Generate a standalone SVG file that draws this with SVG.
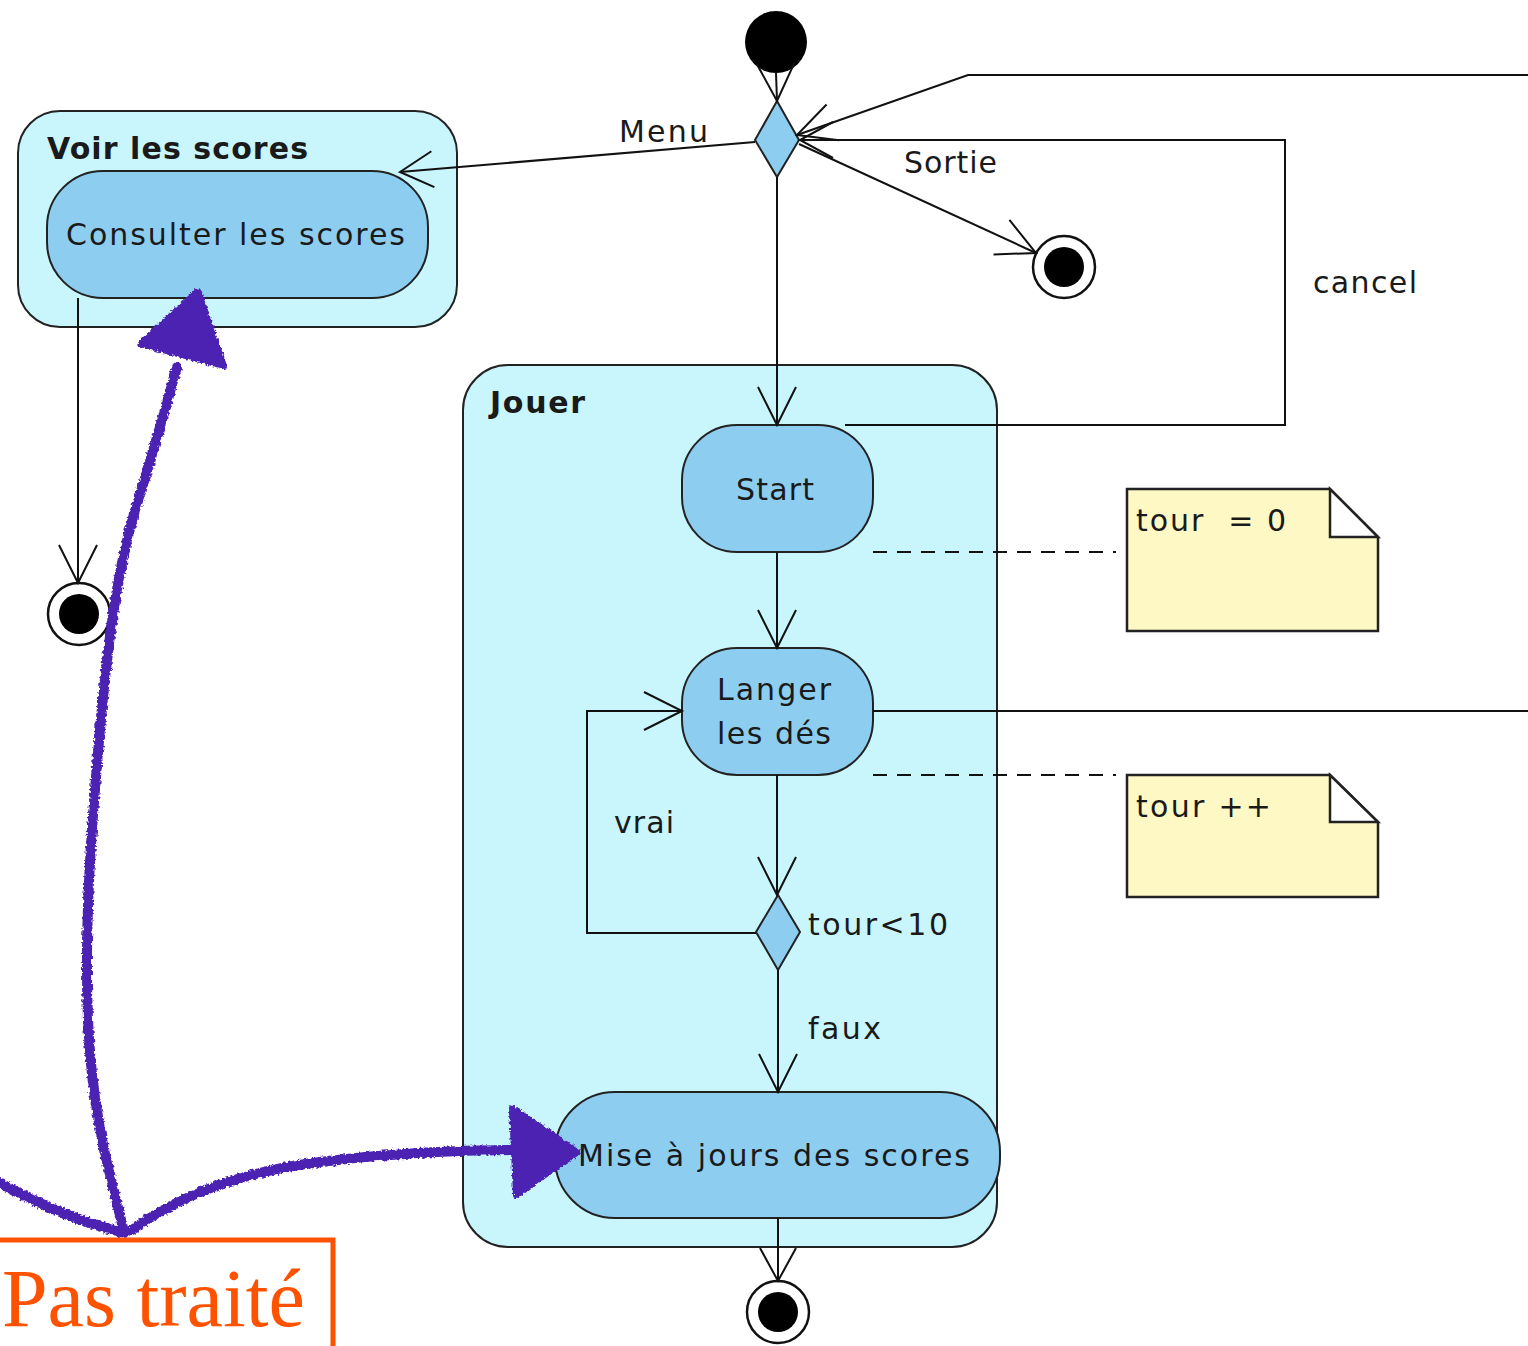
<svg xmlns="http://www.w3.org/2000/svg" width="1528" height="1346" viewBox="0 0 1528 1346">
<style>
.grp{fill:#c9f6fc;stroke:#222;stroke-width:2}
.act{fill:#8dcef0;stroke:#222;stroke-width:2}
.dec{fill:#8dcef0;stroke:#222;stroke-width:2}
.note{fill:#fdf8c4;stroke:#222;stroke-width:2.5}
.fold{fill:#fff;stroke:#222;stroke-width:2.5}
.ln{fill:none;stroke:#111;stroke-width:2}
.dash{fill:none;stroke:#111;stroke-width:2;stroke-dasharray:14 10}
.t{font-family:"DejaVu Sans","Liberation Sans",sans-serif;font-size:30px;fill:#1a1a1a}
.b{font-family:"DejaVu Sans","Liberation Sans",sans-serif;font-size:30px;font-weight:bold;fill:#1a1a1a}
.pur{fill:none;stroke:#4b23b2;stroke-width:10;stroke-linecap:round;stroke-linejoin:round}
.purf{fill:#4b23b2;stroke:#4b23b2;stroke-width:6;stroke-linejoin:round}
</style>
<defs>
<marker id="arr" markerUnits="userSpaceOnUse" markerWidth="50" markerHeight="50" refX="0" refY="0" viewBox="-45 -25 50 50" orient="auto" overflow="visible">
<path d="M -38 -19 L 0 0 L -38 19" fill="none" stroke="#111" stroke-width="2"/>
</marker>
<marker id="arrs" markerUnits="userSpaceOnUse" markerWidth="50" markerHeight="50" refX="0" refY="0" viewBox="-45 -25 50 50" orient="auto" overflow="visible">
<path d="M -33 -18 L 0 0 L -33 18" fill="none" stroke="#111" stroke-width="2"/>
</marker>
<filter id="rough" x="-10%" y="-10%" width="120%" height="120%">
<feTurbulence type="fractalNoise" baseFrequency="0.35" numOctaves="2" seed="3" result="n"/>
<feDisplacementMap in="SourceGraphic" in2="n" scale="5" xChannelSelector="R" yChannelSelector="G"/>
</filter>
</defs>
<rect x="0" y="0" width="1528" height="1346" fill="#fff"/>

<g id="voir">
<rect class="grp" x="18" y="111" width="439" height="216" rx="42"/>
<text class="b" x="47" y="159" textLength="261">Voir les scores</text>
</g>
<g id="consulter">
<rect class="act" x="47" y="171" width="381" height="127" rx="56"/>
<text class="t" x="66" y="245" textLength="339">Consulter les scores</text>
</g>
<g id="jouer">
<rect class="grp" x="463" y="365" width="534" height="882" rx="45"/>
<text class="b" x="490" y="413" textLength="95">Jouer</text>
</g>
<g id="start">
<rect class="act" x="682" y="425" width="191" height="127" rx="55"/>
<text class="t" x="736" y="500" textLength="78">Start</text>
</g>
<g id="langer">
<rect class="act" x="682" y="648" width="191" height="127" rx="55"/>
<text class="t" x="717" y="700" textLength="114">Langer</text>
<text class="t" x="717" y="744" textLength="114">les dés</text>
</g>
<g id="mise">
<rect class="act" x="555" y="1092" width="445" height="126" rx="60"/>
<text class="t" x="578" y="1166" textLength="392">Mise à jours des scores</text>
</g>
<g id="init">
<circle cx="776" cy="42" r="31" fill="#000"/>
</g>
<g id="decision1">
<polygon class="dec" points="777,101 799,140 777,177 755,140"/>
</g>
<g id="decision2">
<polygon class="dec" points="778,895 800,932 778,970 756,932"/>
</g>
<g id="final-sortie">
<circle cx="1064" cy="267" r="31" fill="#fff" stroke="#111" stroke-width="2.5"/>
<circle cx="1064" cy="267" r="20" fill="#000"/>
</g>
<g id="final-voir">
<circle cx="79" cy="614" r="31" fill="#fff" stroke="#111" stroke-width="2.5"/>
<circle cx="79" cy="614" r="20" fill="#000"/>
</g>
<g id="final-jouer">
<circle cx="778" cy="1312" r="31" fill="#fff" stroke="#111" stroke-width="2.5"/>
<circle cx="778" cy="1312" r="20" fill="#000"/>
</g>
<g id="note1">
<path class="note" d="M1127 489 H1330 L1378 537 V631 H1127 Z"/>
<path class="fold" d="M1330 489 V537 H1378 Z"/>
<text class="t" x="1136" y="531" textLength="150" xml:space="preserve">tour  = 0</text>
</g>
<g id="note2">
<path class="note" d="M1127 775 H1330 L1378 822 V897 H1127 Z"/>
<path class="fold" d="M1330 775 V822 H1378 Z"/>
<text class="t" x="1136" y="817" textLength="135">tour ++</text>
</g>

<g id="connectors">
<line class="ln" x1="776" y1="73" x2="777" y2="101" marker-end="url(#arr)"/>
<line class="ln" x1="755" y1="142" x2="400" y2="172" marker-end="url(#arrs)"/>
<polyline class="ln" points="1528,75 968,75 797,135" marker-end="url(#arr)"/>
<polyline class="ln" points="845,425 1285,425 1285,140 800,140" marker-end="url(#arrs)"/>
<line class="ln" x1="799" y1="144" x2="1036" y2="253" marker-end="url(#arr)"/>
<line class="ln" x1="777" y1="177" x2="777" y2="425" marker-end="url(#arr)"/>
<line class="ln" x1="78" y1="298" x2="78" y2="583" marker-end="url(#arr)"/>
<line class="ln" x1="777" y1="552" x2="777" y2="648" marker-end="url(#arr)"/>
<line class="ln" x1="777" y1="775" x2="777" y2="895" marker-end="url(#arr)"/>
<polyline class="ln" points="756,933 587,933 587,711 682,711" marker-end="url(#arr)"/>
<line class="ln" x1="778" y1="970" x2="778" y2="1092" marker-end="url(#arr)"/>
<line class="ln" x1="778" y1="1218" x2="778" y2="1281" marker-end="url(#arrs)"/>
<line class="ln" x1="873" y1="711" x2="1528" y2="711"/>
<line class="dash" x1="873" y1="552" x2="1116" y2="552"/>
<line class="dash" x1="873" y1="775" x2="1116" y2="775"/>
<text class="t" x="619" y="142" textLength="89">Menu</text>
<text class="t" x="904" y="173" textLength="93">Sortie</text>
<text class="t" x="1313" y="293" textLength="104">cancel</text>
<text class="t" x="614" y="833" textLength="60">vrai</text>
<text class="t" x="808" y="935" textLength="140">tour&lt;10</text>
<text class="t" x="808" y="1039" textLength="73">faux</text>
</g>

<g id="annotations" filter="url(#rough)">
<path class="pur" d="M124 1232 C112 1180 92 1120 88 1020 C84 920 92 820 100 730 C108 640 118 560 140 495 C152 455 165 410 177 367"/>
<path class="purf" d="M198 291 L140 344 L224 366 Z"/>
<path class="pur" d="M132 1230 C180 1195 240 1172 320 1162 C400 1152 460 1150 515 1150"/>
<path class="purf" d="M578 1152 L512 1108 L516 1195 Z"/>
<path class="pur" d="M0 1183 C40 1205 80 1222 124 1233"/>
</g>
<g id="pas-traite">
<rect x="-10" y="1240" width="343" height="130" fill="none" stroke="#ff5200" stroke-width="5"/>
<text x="2" y="1326" font-family="'Liberation Serif','Times New Roman',serif" font-size="82" fill="#ff5200">Pas traité</text>
</g>
</svg>
